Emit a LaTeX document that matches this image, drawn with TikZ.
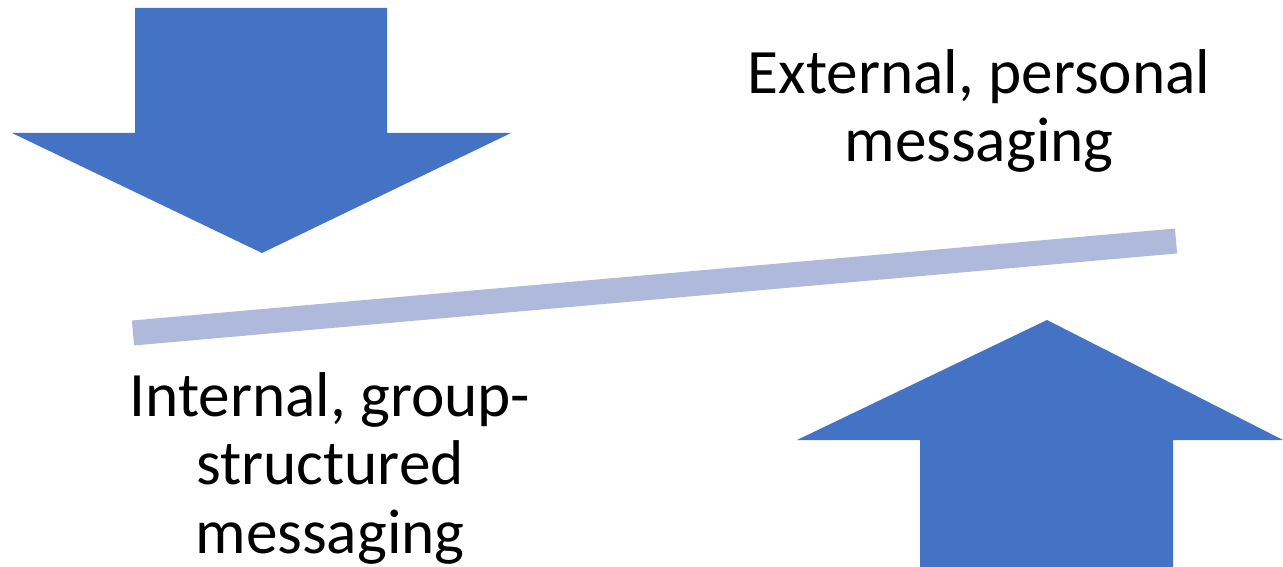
\documentclass[tikz,border=0pt]{standalone}
\usepackage{fontspec}
\setmainfont{Carlito}
\usepackage{xcolor}
\usepackage{tikz}
\usetikzlibrary{positioning}

\definecolor{arrowblue}{HTML}{4472C4}
\definecolor{barblue}{HTML}{AEB9DC}

\begin{document}
\begin{tikzpicture}[
	x=0.02cm, y=-0.02cm,
	pfeil/.style={fill=arrowblue, draw=none},
	beschriftung/.style={align=center, font=\fontsize{36}{39}\selectfont, inner sep=0pt}
]
	\useasboundingbox (0,0) rectangle (1283,567);
	% Pfeil(unten)
	\draw[
		pfeil
	] (135,8) -- (387,8) -- (387,133) -- (511,133) -- (262,253) --
		(12,133) -- (135,133) -- cycle;
	% Pfeil(oben)
	\draw[
		pfeil
	] (920,567) -- (920,440) -- (797,440) -- (1047,320) -- (1283,440) --
		(1173,440) -- (1173,567) -- cycle;
	% Waage
	\coordinate (links) at (133,333);
	\coordinate (rechts) at (1176,241);
	\draw[
		line width=0.5cm,
		color=barblue
	] (links) -- (rechts);
	% Texte
	\node[
		beschriftung
	] (extern) at (979,111) {External, personal\\messaging};
	\node[
		beschriftung
	] (intern) at (330,468) {Internal, group-\\structured\\messaging};
\end{tikzpicture}
\end{document}
